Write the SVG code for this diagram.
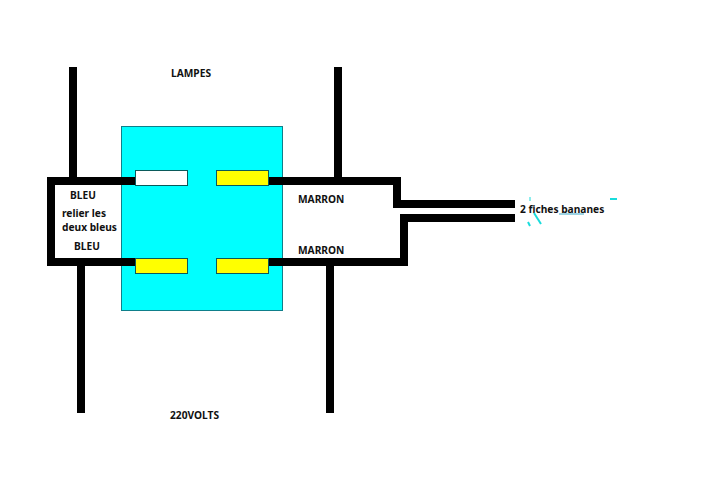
<svg xmlns="http://www.w3.org/2000/svg" width="707" height="500" viewBox="0 0 707 500">
<style>
.w{fill:none;stroke:#000;stroke-width:8;stroke-linejoin:miter}
.t{font-family:"Noto Sans","Open Sans",sans-serif;font-weight:700;font-size:10.2px;fill:#111}
.s{stroke:#0b5a5a;stroke-width:1}
</style>
<rect width="707" height="500" fill="#fff"/>
<g id="boitier"><rect x="121.500" y="126.500" width="161" height="184" fill="#00ffff" stroke="#0f7f8a"/></g>
<g id="connecteurs">
<path class="w" d="M73 67V181"/>
<path class="w" d="M338 67V181"/>
<path class="w" d="M81 262V413"/>
<path class="w" d="M330 262V413"/>
<path class="w" d="M136 181H51V262H136"/>
<path class="w" d="M268 181H397V204H515"/>
<path class="w" d="M268 262H404V218H515"/>
</g>
<g id="borne-blanche"><rect class="s" x="135.500" y="170.500" width="52" height="15" fill="#fff"/></g>
<g id="borne-jaune-1"><rect class="s" x="216.500" y="170.500" width="52" height="15" fill="#ffff00"/></g>
<g id="borne-jaune-2"><rect class="s" x="135.500" y="258.500" width="52" height="15" fill="#ffff00"/></g>
<g id="borne-jaune-3"><rect class="s" x="216.500" y="258.500" width="52" height="15" fill="#ffff00"/></g>
<g id="textes">
<text class="t" x="171" y="77">LAMPES</text>
<text class="t" x="70" y="199">BLEU</text>
<text class="t" x="62" y="217">relier les</text>
<text class="t" x="62" y="231">deux bleus</text>
<text class="t" x="74" y="250">BLEU</text>
<text class="t" x="298" y="203">MARRON</text>
<text class="t" x="298" y="254">MARRON</text>
<text class="t" x="520" y="213">2 fiches bananes</text>
<text class="t" x="170" y="419">220VOLTS</text>
</g>
<g id="traces" fill="none" stroke="#19dcdc" stroke-width="2">
<path d="M534 213L541 224"/>
<path d="M528 222L530 226"/>
<path d="M610 199H617"/>
<path d="M530 197V201" stroke-width="1"/>
<path d="M559 214H584" stroke-width="1" stroke="#3aa8c8"/>
</g>
</svg>
